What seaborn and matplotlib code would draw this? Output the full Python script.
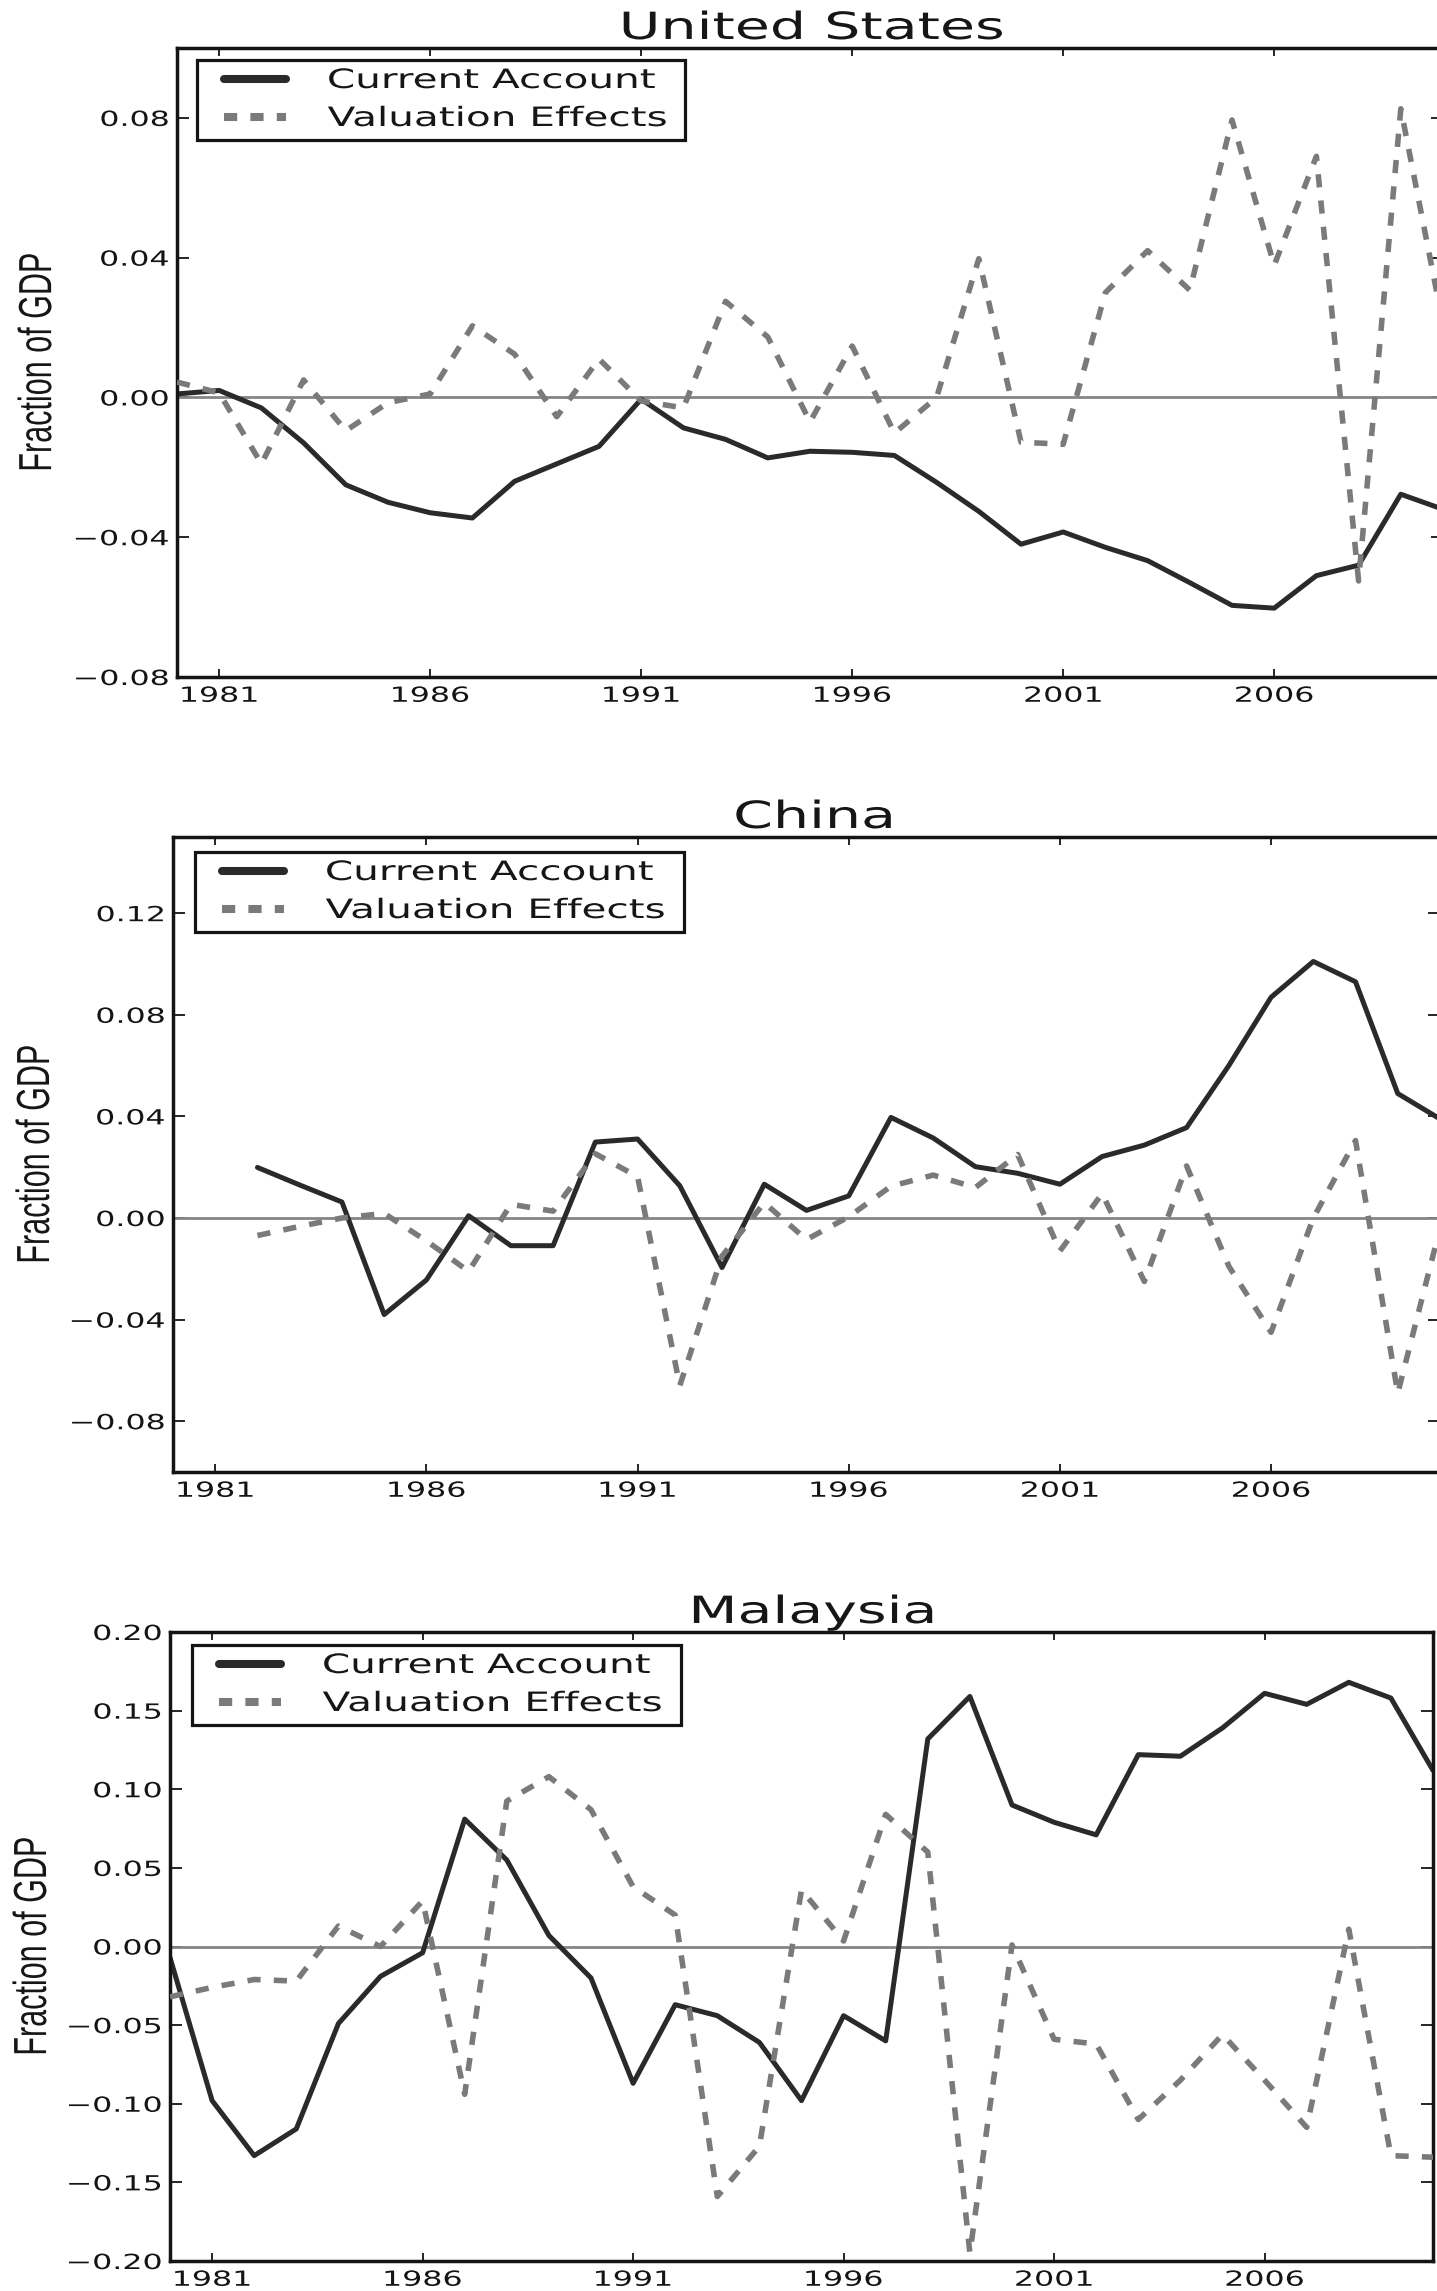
import numpy as np
import matplotlib
matplotlib.use("Agg")
import matplotlib.pyplot as plt
import seaborn as sns
from matplotlib.patheffects import AbstractPathEffect
from matplotlib.transforms import Affine2D
from matplotlib.lines import Line2D
from matplotlib.legend_handler import HandlerLine2D

# ---------------------------------------------------------------- data
years = list(range(1980, 2011))
xtick_years = [1981, 1986, 1991, 1996, 2001, 2006]

panel_titles = ["United States", "China", "Malaysia"]
series_labels = ["Current Account", "Valuation Effects"]
y_label = "Fraction of GDP"

us_current_account = [0.001, 0.002, -0.003, -0.013, -0.025, -0.030, -0.033, -0.0345,
                      -0.024, -0.019, -0.014, -0.0005, -0.0087, -0.012, -0.0173, -0.0154,
                      -0.0157, -0.0166, -0.0243, -0.0326, -0.042, -0.0385, -0.0429,
                      -0.0467, -0.053, -0.0595, -0.0603, -0.051, -0.048, -0.0277, -0.032]
us_valuation = [0.0044, 0.0013, -0.019, 0.005, -0.0095, -0.0015, 0.001, 0.0205, 0.0124,
                -0.0055, 0.011, -0.001, -0.003, 0.0275, 0.0173, -0.007, 0.0147, -0.0102,
                0.0, 0.0397, -0.0128, -0.0134, 0.030, 0.042, 0.0307, 0.0794, 0.0378,
                0.069, -0.0525, 0.0826, 0.021]

cn_current_account = [np.nan, np.nan, 0.0199, 0.013, 0.0063, -0.038, -0.0244, 0.0009,
                      -0.0109, -0.0109, 0.0299, 0.0311, 0.0127, -0.0195, 0.0133, 0.003,
                      0.0087, 0.0396, 0.0315, 0.0202, 0.0176, 0.0133, 0.0242, 0.0287,
                      0.0356, 0.060, 0.0869, 0.101, 0.093, 0.049, 0.039]
cn_valuation = [np.nan, np.nan, -0.0069, -0.0033, 0.0, 0.0018, -0.009, -0.021, 0.0054,
                0.0027, 0.0253, 0.0163, -0.066, -0.015, 0.006, -0.0085, 0.0005, 0.0125,
                0.0169, 0.012, 0.025, -0.013, 0.0096, -0.025, 0.0205, -0.019, -0.045,
                0.0, 0.0305, -0.069, -0.004]

my_current_account = [-0.007, -0.098, -0.133, -0.116, -0.049, -0.019, -0.004, 0.081,
                      0.055, 0.007, -0.020, -0.087, -0.037, -0.044, -0.061, -0.098,
                      -0.044, -0.060, 0.132, 0.159, 0.090, 0.079, 0.071, 0.122, 0.121,
                      0.139, 0.161, 0.154, 0.168, 0.158, 0.112]
my_valuation = [-0.032, -0.026, -0.021, -0.022, 0.013, 0.0, 0.029, -0.094, 0.0925, 0.108,
                0.087, 0.038, 0.020, -0.159, -0.127, 0.036, 0.0035, 0.084, 0.060, -0.195,
                0.001, -0.059, -0.062, -0.110, -0.085, -0.056, -0.085, -0.115, 0.011,
                -0.133, -0.134]

us_yticks = [-0.08, -0.04, 0.0, 0.04, 0.08]
cn_yticks = [-0.08, -0.04, 0.0, 0.04, 0.08, 0.12]
my_yticks = [-0.20, -0.15, -0.10, -0.05, 0.0, 0.05, 0.10, 0.15, 0.20]

# ---------------------------------------------------------------- style
CA_COLOR = "#2a2a2a"
VE_COLOR = "#7a7a7a"
ZERO_COLOR = "#858585"
INK = "#141414"
WIDEN = 1.52          # horizontal glyph widening used for every label


class Widen(AbstractPathEffect):
    """Draw text glyphs scaled along (or across) the writing direction."""

    def __init__(self, factor, anchor="center", across=False):
        super().__init__()
        self.factor = factor
        self.anchor = anchor
        self.across = across

    def draw_path(self, renderer, gc, tpath, affine, rgbFace=None):
        if len(tpath.vertices) == 0:
            return
        ext = tpath.get_extents()
        if self.across:
            cy = 0.5 * (ext.y0 + ext.y1)
            pre = Affine2D().translate(0, -cy).scale(1, self.factor).translate(0, cy)
        else:
            if self.anchor == "left":
                cx = ext.x0
            elif self.anchor == "right":
                cx = ext.x1
            else:
                cx = 0.5 * (ext.x0 + ext.x1)
            pre = Affine2D().translate(-cx, 0).scale(self.factor, 1).translate(cx, 0)
        renderer.draw_path(gc, tpath, pre + affine, rgbFace)


sns.set_theme(style="white")
plt.rcParams.update({
    "font.family": ["DejaVu Sans"],
    "axes.edgecolor": INK,
    "axes.linewidth": 2.5,
    "lines.scale_dashes": False,
    "xtick.color": INK,
    "ytick.color": INK,
    "text.color": "#161616",
    "axes.unicode_minus": True,
    "axes.grid": False,
})

W, H = 1437, 2291
fig = plt.figure(figsize=(W / 100, H / 100), dpi=100, facecolor="white")


def px_rect(left, right, top, bottom):
    return [left / W, 1 - bottom / H, (right - left) / W, (bottom - top) / H]


panels = [
    dict(title=panel_titles[0], ca=us_current_account, ve=us_valuation,
         ylim=(-0.08, 0.10), yticks=us_yticks, box=(177, 1443, 48, 677),
         legend_box=(197, 685, 60), title_x=0.5016, ylabel_x=-0.0984),
    dict(title=panel_titles[1], ca=cn_current_account, ve=cn_valuation,
         ylim=(-0.10, 0.15), yticks=cn_yticks, box=(173, 1440, 837, 1472),
         legend_box=(195, 684, 852), title_x=0.506, ylabel_x=-0.0968),
    dict(title=panel_titles[2], ca=my_current_account, ve=my_valuation,
         ylim=(-0.20, 0.20), yticks=my_yticks, box=(170, 1433, 1632, 2261),
         legend_box=(192, 681, 1645), title_x=0.509, ylabel_x=-0.0971),
]

for p in panels:
    left, right, top, bottom = p["box"]
    ax = fig.add_axes(px_rect(left, right, top, bottom))
    ax.set_facecolor("white")

    ax.axhline(0, color=ZERO_COLOR, lw=2.0, zorder=1)
    sns.lineplot(x=years, y=p["ca"], ax=ax, color=CA_COLOR, linewidth=3.6,
                 errorbar=None, legend=False, zorder=2)
    ca_line = ax.lines[-1]
    sns.lineplot(x=years, y=p["ve"], ax=ax, color=VE_COLOR, linewidth=4.0,
                 linestyle=(0, (9.5, 9.5)), errorbar=None, legend=False, zorder=3)
    ve_line = ax.lines[-1]

    ax.set_xlim(1980, 2010)
    ax.set_ylim(*p["ylim"])
    ax.set_xticks(xtick_years, [str(y) for y in xtick_years])
    ax.set_yticks(p["yticks"],
                  [f"{v:.2f}".replace("-", "\u2212") for v in p["yticks"]])
    ax.minorticks_off()
    ax.tick_params(axis="x", which="major", direction="in", length=5.8, width=1.3,
                   pad=6.3, labelsize=15, top=True, bottom=True)
    ax.tick_params(axis="y", which="major", direction="in", length=8.6, width=1.3,
                   pad=5.8, labelsize=15, left=True, right=True)
    for sp in ax.spines.values():
        sp.set_visible(True)
        sp.set_color(INK)
        sp.set_linewidth(2.5)

    for lbl in ax.get_xticklabels():
        lbl.set_path_effects([Widen(WIDEN, "center")])
    for lbl in ax.get_yticklabels():
        lbl.set_path_effects([Widen(WIDEN, "right")])

    ax.set_xlabel("")
    ylab = ax.set_ylabel(y_label, fontsize=22, family=["Liberation Sans", "DejaVu Sans"],
                         color="#161616")
    ax.yaxis.set_label_coords(p["ylabel_x"], 0.5)
    ylab.set_path_effects([Widen(WIDEN, across=True)])

    ttl = ax.set_title(p["title"], fontsize=27, pad=6.5, x=p["title_x"])
    ttl.set_path_effects([Widen(WIDEN, "center")])

    # legend frame placed in axes fractions
    lx0, lx1, ltop = p["legend_box"]
    aw, ah = right - left, bottom - top
    bx = (lx0 - left) / aw
    bw = (lx1 - lx0) / aw
    by_top = 1 - (ltop - top) / ah
    leg = ax.legend(handles=[ca_line, ve_line], labels=series_labels,
                    loc="upper left", bbox_to_anchor=(bx, by_top - 0.3, bw, 0.3),
                    mode="expand", borderaxespad=0, fontsize=19.2, frameon=True,
                    fancybox=False, framealpha=1, edgecolor=INK, facecolor="white",
                    borderpad=0.3, labelspacing=0.45, handlelength=3.03,
                    handletextpad=1.57,
                    handler_map={Line2D: HandlerLine2D(xpad=0.73)})
    leg.get_frame().set_linewidth(2.3)
    for h in leg.legend_handles:
        h.set_linewidth(5.8)
    for t in leg.get_texts():
        t.set_path_effects([Widen(WIDEN, "left")])

fig.savefig("out.png", dpi=100, facecolor="white")
